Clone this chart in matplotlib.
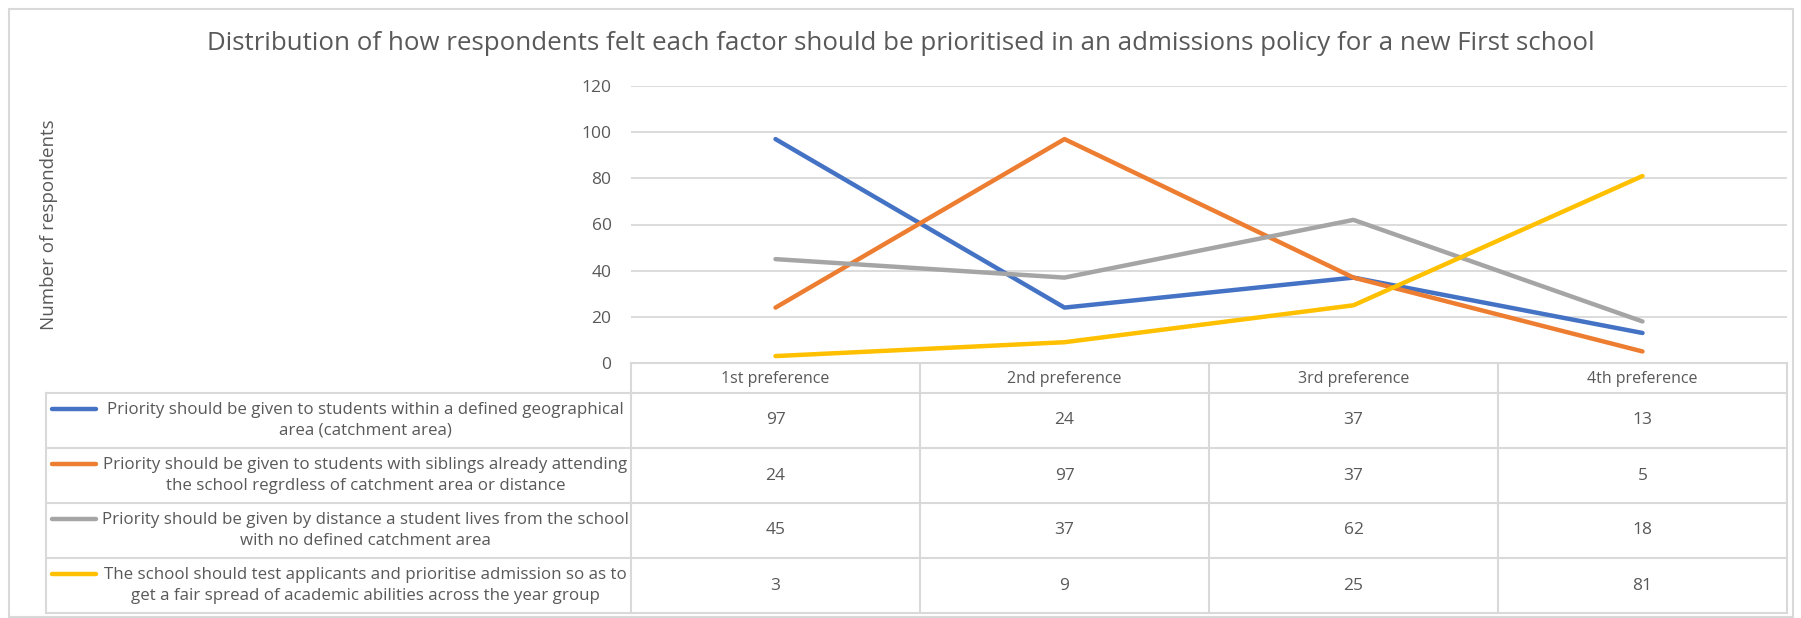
import matplotlib
matplotlib.use("Agg")
import matplotlib.pyplot as plt
from matplotlib.patches import Rectangle

# data
categories = ["1st preference", "2nd preference", "3rd preference", "4th preference"]
series_labels = [
    "Priority should be given to students within a defined geographical\narea (catchment area)",
    "Priority should be given to students with siblings already attending\nthe school regrdless of catchment area or distance",
    "Priority should be given by distance a student lives from the school\nwith no defined catchment area",
    "The school should test applicants and prioritise admission so as to\nget a fair spread of academic abilities across the year group",
]
catchment = [97, 24, 37, 13]
siblings = [24, 97, 37, 5]
distance = [45, 37, 62, 18]
testing = [3, 9, 25, 81]
series = [catchment, siblings, distance, testing]
colors = ["#4472C4", "#ED7D31", "#A5A5A5", "#FFC000"]
yticks = [0, 20, 40, 60, 80, 100, 120]

TXT = "#595959"
GRID = "#D9D9D9"
FONT = ["Open Sans", "DejaVu Sans"]
W, H = 1801, 618

fig = plt.figure(figsize=(W / 100, H / 100), dpi=100)

def fx(px):
    return px / W

def fy(py):
    return 1 - py / H

# outer chart border
fig.patches.append(Rectangle((fx(9), fy(617)), fx(1793 - 9), 608 / H,
                             transform=fig.transFigure, fill=False,
                             edgecolor=GRID, lw=1.5))

fig.text(0.5, fy(44), "Distribution of how respondents felt each factor should be prioritised in an admissions policy for a new First school",
         ha="center", va="center", fontsize=18.6, color=TXT, family=FONT)

# plot area
left, right, top, bottom = 631, 1787, 86, 363
ax = fig.add_axes([fx(left), fy(bottom), fx(right - left), (bottom - top) / H])
x = list(range(len(categories)))
for vals, c in zip(series, colors):
    ax.plot(x, vals, color=c, lw=3.2, solid_capstyle="round", solid_joinstyle="round")
ax.set_xlim(-0.5, len(categories) - 0.5)
ax.set_ylim(0, 120)
ax.set_yticks(yticks)
ax.set_yticklabels([str(v) for v in yticks], color=TXT, fontsize=12.5, family=FONT)
ax.tick_params(axis="y", length=0, pad=14)
ax.set_xticks(x)
ax.set_xticklabels(categories, color=TXT, fontsize=11.5, family=FONT)
ax.tick_params(axis="x", length=0, pad=6)
ax.yaxis.grid(True, color=GRID, lw=1.3)
ax.set_axisbelow(True)
for s in ["top", "right", "left"]:
    ax.spines[s].set_visible(False)
ax.spines["bottom"].set_color(GRID)
ax.spines["bottom"].set_linewidth(1.5)

fig.text(fx(49), fy((top + bottom) / 2), "Number of respondents", rotation=90,
         ha="center", va="center", fontsize=13.5, color=TXT, family=FONT)

# data table under the plot
t_left, t_bottom = 46, 612
head_h, row_h = 30, 55
col_w = (right - left) / len(categories)
tab = fig.add_axes([fx(t_left), fy(t_bottom), fx(right - t_left), (t_bottom - bottom) / H])
tab.axis("off")
x0 = -0.5 - (left - t_left) / col_w
tab.set_xlim(x0, len(categories) - 0.5)
tab.set_ylim(t_bottom - bottom, 0)
n = len(series)
ys = [head_h + i * row_h for i in range(n + 1)]
for yy in ys:
    tab.plot([x0, len(categories) - 0.5], [yy, yy], color=GRID, lw=1.5, clip_on=False)
tab.plot([x0, x0], [ys[0], ys[-1]], color=GRID, lw=1.5, clip_on=False)
for i in range(len(categories) + 1):
    tab.plot([i - 0.5, i - 0.5], [0, ys[-1]], color=GRID, lw=1.5, clip_on=False)

key_len = 44 / col_w
key_start = x0 + 6 / col_w
text_center = (key_start + key_len - 0.5) / 2 + 2 / col_w
for r, (lab, vals, c) in enumerate(zip(series_labels, series, colors)):
    yc = ys[r] + row_h / 2
    tab.plot([key_start, key_start + key_len], [yc - 11.5, yc - 11.5], color=c, lw=3.2,
             solid_capstyle="round", clip_on=False)
    tab.text(text_center, yc, lab, ha="center", va="center", fontsize=12.2, color=TXT,
             family=FONT, linespacing=1.35)
    for j, v in enumerate(vals):
        tab.text(j, yc, str(v), ha="center", va="center", fontsize=12.5, color=TXT,
                 family=FONT)

fig.savefig("out.png", dpi=100)
